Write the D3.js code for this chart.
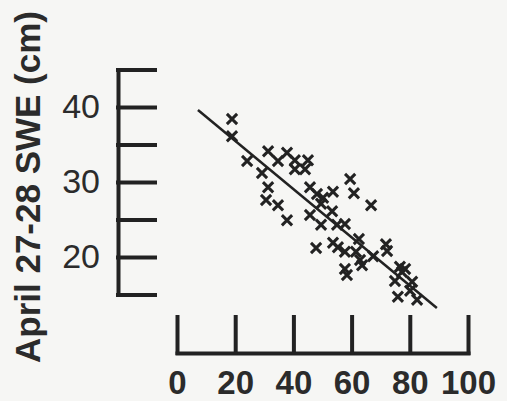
<!DOCTYPE html>
<html>
<head>
<meta charset="utf-8">
<script src="https://cdn.jsdelivr.net/npm/d3@7"></script>
<style>
  body { margin: 0; background: #f6f6f4; }
  svg { display: block; }
  text { font-family: "Liberation Sans", Arial, Helvetica, sans-serif; fill: #2b2b2b; }
</style>
</head>
<body>
<svg id="chart" width="507" height="401"></svg>
<script>
// readings: x in %, y = April 27-28 SWE (cm)
var xValues = [18.9, 18.9, 24.1, 31.3, 29.2, 31.3, 30.6, 34.7, 34.7, 37.8,
  40.5, 45.0, 40.5, 44.0, 45.7, 48.1, 50.2, 53.6, 49.5, 53.3,
  45.7, 37.8, 49.5, 55.0, 57.7, 59.5, 60.8, 66.7, 62.5, 47.8,
  53.6, 55.3, 57.7, 61.5, 62.9, 67.4, 63.6, 57.7, 58.4, 71.8,
  72.2, 76.6, 78.4, 77.3, 74.9, 80.8, 80.1, 75.9, 82.5];
var yValues = [38.4, 36.1, 32.8, 34.1, 31.2, 29.3, 27.6, 26.9, 32.8, 33.9,
  32.9, 32.9, 31.7, 31.7, 29.3, 28.4, 27.9, 28.7, 27.1, 26.1,
  25.6, 24.9, 24.3, 24.3, 24.4, 30.4, 28.5, 26.9, 22.4, 21.2,
  21.9, 21.3, 20.7, 20.7, 19.6, 20.1, 18.9, 18.4, 17.6, 21.7,
  20.8, 18.7, 18.4, 18.0, 16.8, 16.7, 15.5, 14.7, 14.3];
// fitted line end points
var fitX = [7.2, 89.3];
var fitY = [39.6, 13.2];
var xTicks = [0, 20, 40, 60, 80, 100];
var yTicks = [15, 20, 25, 30, 35, 40, 45];
var yLabelled = [20, 30, 40];

var svg = d3.select("#chart");
var ink = "#222";

var x = d3.scaleLinear().domain([0, 100]).range([177, 468]);
var y = d3.scaleLinear().domain([15, 45]).range([294.5, 69.5]);

// y axis: ticks point inward (right), labels on the left
var yAxis = d3.axisLeft(y)
    .tickValues(yTicks)
    .tickSizeInner(-37)
    .tickSizeOuter(0)
    .tickPadding(18)
    .tickFormat(function (d) { return yLabelled.indexOf(d) >= 0 ? d : ""; });

var gy = svg.append("g").attr("transform", "translate(118,0)").call(yAxis);
gy.selectAll("path, line").attr("stroke", ink).attr("stroke-width", 4).attr("stroke-linecap", "square");
gy.selectAll("text").style("font-size", "34px").attr("fill", "#2b2b2b");

// x axis: ticks point up
var xAxis = d3.axisBottom(x)
    .tickValues(xTicks)
    .tickSizeInner(-36)
    .tickSizeOuter(0)
    .tickPadding(18);

var gx = svg.append("g").attr("transform", "translate(0,353)").call(xAxis);
gx.selectAll("path, line").attr("stroke", ink).attr("stroke-width", 4).attr("stroke-linecap", "square");
gx.selectAll("text").style("font-size", "33px").style("font-weight", "bold").attr("fill", "#2b2b2b");

svg.selectAll(".domain").attr("fill", "none");

// y title
svg.append("text")
    .attr("transform", "translate(40,187) rotate(-90)")
    .attr("text-anchor", "middle")
    .style("font-size", "35px")
    .style("font-weight", "bold")
    .text("April 27-28 SWE (cm)");

// regression line
var line = d3.line()
    .x(function (d) { return x(d[0]); })
    .y(function (d) { return y(d[1]); });
svg.append("path")
    .datum(d3.zip(fitX, fitY))
    .attr("d", line)
    .attr("fill", "none")
    .attr("stroke", ink)
    .attr("stroke-width", 2.5);

// points
var cross = d3.symbol().type(d3.symbolX).size(70);
svg.selectAll(".pt")
    .data(d3.zip(xValues, yValues))
    .enter().append("path")
    .attr("class", "pt")
    .attr("transform", function (d) { return "translate(" + x(d[0]) + "," + y(d[1]) + ")"; })
    .attr("d", cross)
    .attr("fill", "none")
    .attr("stroke", ink)
    .attr("stroke-width", 3);
</script>
</body>
</html>
